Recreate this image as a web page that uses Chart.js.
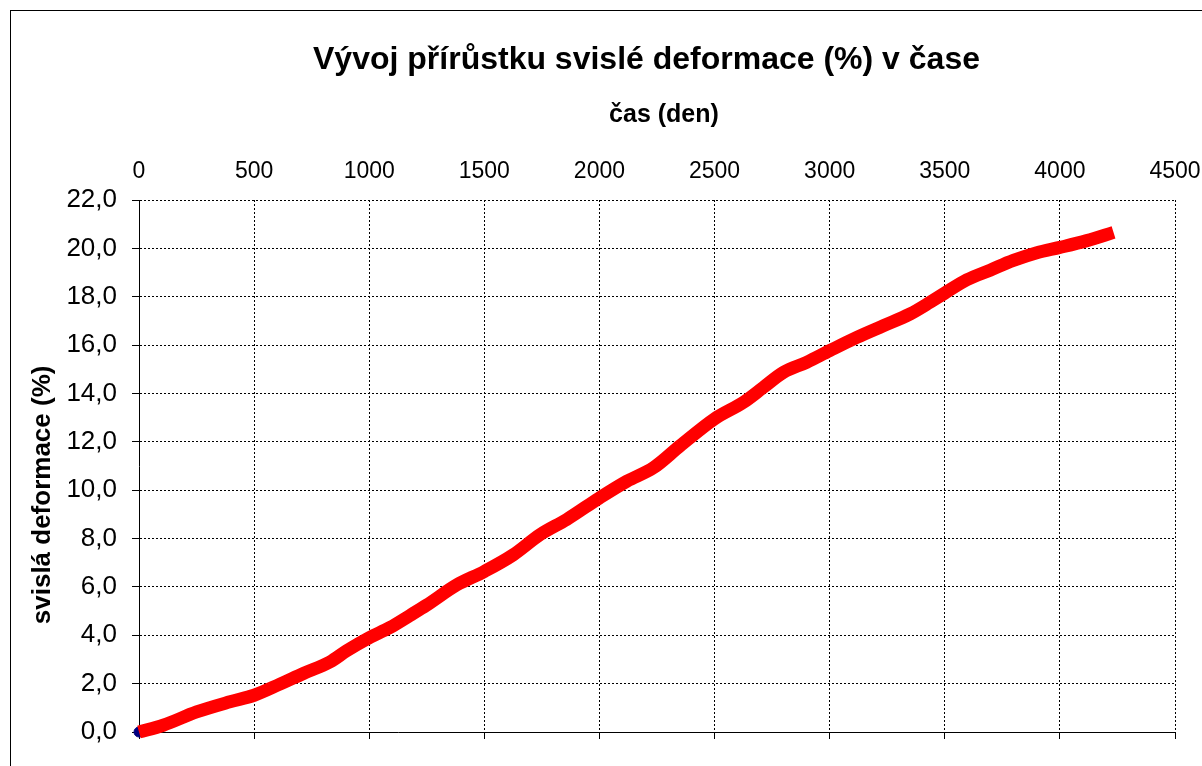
<!DOCTYPE html>
<html><head><meta charset="utf-8">
<script src="https://cdn.jsdelivr.net/npm/chart.js@4.4.1/dist/chart.umd.min.js"></script>
<style>
html,body{margin:0;padding:0;background:#fff;overflow:hidden;width:1202px;height:766px;}
#frame{position:absolute;left:10px;top:10px;width:1260px;height:820px;border:1px solid #000;box-sizing:border-box;}
#wrap{position:absolute;left:0;top:0;width:1293px;height:766px;}
</style></head><body>
<div id="frame"></div>
<div id="wrap"><canvas id="c" width="1293" height="766"></canvas></div>
<script>
const chartTitle = 'Vývoj přírůstku svislé deformace (%) v čase';
const xAxisTitle = 'čas (den)';
const yAxisTitle = 'svislá deformace (%)';

const days = [0, 105, 250, 395, 500, 612, 714, 830, 902, 1000, 1090, 1177, 1250, 1380, 1500, 1626, 1742, 1858, 2000, 2119, 2235, 2350, 2500, 2625, 2712, 2799, 2900, 3000, 3118, 3233, 3350, 3436, 3500, 3596, 3697, 3798, 3900, 4000, 4117, 4233];
const deformation = [0.00, 0.28, 0.83, 1.25, 1.52, 1.98, 2.42, 2.90, 3.36, 3.90, 4.32, 4.82, 5.25, 6.08, 6.64, 7.33, 8.16, 8.79, 9.68, 10.37, 10.93, 11.83, 12.95, 13.63, 14.25, 14.87, 15.29, 15.77, 16.32, 16.80, 17.29, 17.77, 18.15, 18.70, 19.10, 19.50, 19.82, 20.04, 20.32, 20.66];
const startDay = [0];
const startValue = [0];

const xTickValues = [0, 500, 1000, 1500, 2000, 2500, 3000, 3500, 4000, 4500];
const yTickValues = [0, 2, 4, 6, 8, 10, 12, 14, 16, 18, 20, 22];

const FONT = "'Liberation Sans', Arial, Helvetica, sans-serif";
const GRID_DASH = [2, 2];

const mainPoints = days.map((d, i) => ({x: d, y: deformation[i]}));
const startPoints = startDay.map((d, i) => ({x: d, y: startValue[i]}));

function zeroPad(s) { s.paddingLeft = 0; s.paddingRight = 0; s.paddingTop = 0; s.paddingBottom = 0; }

new Chart(document.getElementById('c'), {
  type: 'scatter',
  data: {
    datasets: [
      {
        data: mainPoints,
        showLine: true,
        borderColor: '#ff0000',
        backgroundColor: '#ff0000',
        borderWidth: 13,
        borderCapStyle: 'butt',
        borderJoinStyle: 'round',
        cubicInterpolationMode: 'monotone',
        pointRadius: 0,
        clip: false,
        order: 1
      },
      {
        data: startPoints,
        showLine: false,
        pointRadius: 5,
        pointBackgroundColor: '#000080',
        pointBorderColor: '#000080',
        clip: false,
        order: 2
      }
    ]
  },
  options: {
    responsive: false,
    animation: false,
    devicePixelRatio: 1,
    layout: { padding: { left: 0, right: 0, top: 0, bottom: 27 } },
    plugins: {
      legend: { display: false },
      tooltip: { enabled: false },
      title: {
        display: true,
        text: chartTitle,
        color: '#000',
        font: { family: FONT, size: 32, weight: 'bold', lineHeight: 1.2 },
        padding: { top: 41, bottom: 0 }
      }
    },
    scales: {
      x: {
        type: 'linear',
        position: 'top',
        min: 0, max: 4500,
        afterBuildTicks: s => { s.ticks = xTickValues.map(v => ({value: v})); },
        afterFit: s => { s.height = 120.6; zeroPad(s); },
        ticks: {
          color: '#000',
          font: { family: FONT, size: 23 },
          padding: 14.5,
          maxRotation: 0,
          callback: v => String(v)
        },
        grid: { color: '#000', lineWidth: 1, drawTicks: false },
        border: { display: false, dash: GRID_DASH },
        title: {
          display: true,
          text: '\u00a0\u00a0' + xAxisTitle,
          color: '#000',
          font: { family: FONT, size: 25, weight: 'bold', lineHeight: 1.2 },
          padding: { top: 21, bottom: 0 }
        }
      },
      x2: {
        type: 'linear',
        position: 'bottom',
        min: 0, max: 4500,
        afterBuildTicks: s => { s.ticks = xTickValues.map(v => ({value: v})); },
        afterFit: s => { s.height = 7; zeroPad(s); },
        ticks: { display: false },
        grid: { drawOnChartArea: false, drawTicks: true, tickLength: 7, color: '#000', lineWidth: 1 },
        border: { display: true, color: '#000', width: 1 }
      },
      y: {
        type: 'linear',
        position: 'left',
        min: 0, max: 22,
        afterBuildTicks: s => { s.ticks = yTickValues.map(v => ({value: v})); },
        afterFit: s => { s.width = 139; zeroPad(s); },
        ticks: {
          color: '#000',
          font: { family: FONT, size: 26 },
          padding: 15,
          callback: v => v.toFixed(1).replace('.', ',')
        },
        grid: { color: '#000', lineWidth: 1, drawTicks: true, tickLength: 7, tickBorderDash: [] },
        border: { display: true, color: '#000', width: 1, dash: GRID_DASH },
        title: {
          display: true,
          text: yAxisTitle + '\u00a0\u00a0\u00a0\u00a0\u00a0\u00a0\u00a0\u00a0',
          color: '#000',
          font: { family: FONT, size: 26, weight: 'bold', lineHeight: 1.2 },
          padding: { top: 27.4, bottom: 0 }
        }
      },
      yRight: {
        type: 'linear',
        position: 'right',
        min: 0, max: 22,
        afterFit: s => { s.width = 118; zeroPad(s); },
        ticks: { display: false },
        grid: { display: false, drawOnChartArea: false, drawTicks: false },
        border: { display: false }
      }
    }
  }
});
</script>
</body></html>
